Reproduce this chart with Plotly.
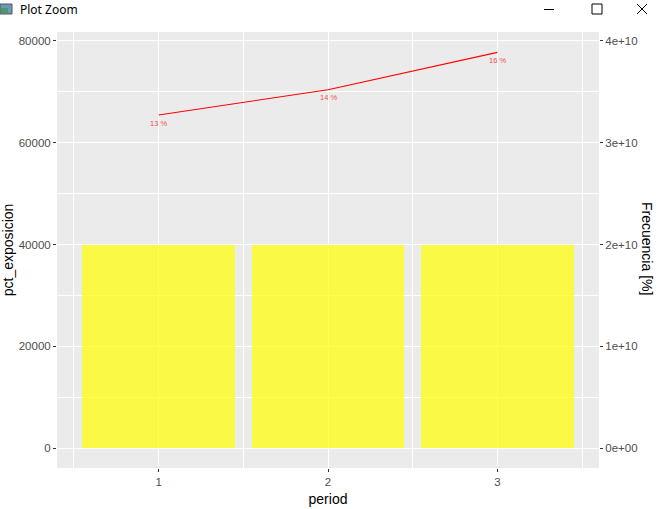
import plotly.graph_objects as go

# ---- data ----
periods = [1, 2, 3]
exposicion = [40000, 40000, 40000]
line_values = [65400, 70370, 77700]
pct_labels = ["13 %", "14 %", "16 %"]
left_ticks = [0, 20000, 40000, 60000, 80000]
right_ticks = [0, 1e10, 2e10, 3e10, 4e10]
right_ticktext = ["0e+00", "1e+10", "2e+10", "3e+10", "4e+10"]
sec_factor = 5e5

W, H = 662, 509
L, R, T, B = 57, 63, 32, 41
PW, PH = W - L - R, H - T - B

def px(x):
    return (x - L) / PW

def py(y):
    return (H - B - y) / PH

yr = [-3850, 81700]
font = "Liberation Sans, Arial, sans-serif"

fig = go.Figure()
fig.add_trace(go.Bar(x=periods, y=exposicion, width=0.9,
                     marker=dict(color="rgba(255,255,0,0.7)", line=dict(width=0)),
                     showlegend=False, hoverinfo="skip"))
fig.add_trace(go.Scatter(x=periods, y=line_values, mode="lines",
                         line=dict(color="red", width=1.1),
                         showlegend=False, hoverinfo="skip"))
# invisible trace to activate secondary axis
fig.add_trace(go.Scatter(x=[periods[0]], y=[0], yaxis="y2", mode="markers",
                         marker=dict(opacity=0), showlegend=False, hoverinfo="skip"))

for xv, yv, lab in zip(periods, line_values, pct_labels):
    fig.add_annotation(x=xv, y=yv, text=lab, showarrow=False, yshift=-8,
                       font=dict(color="#f44c4c", size=7.5, family=font))

axis_common = dict(showline=False, zeroline=False, ticks="outside", ticklen=3,
                   tickcolor="#333333", tickwidth=1.1, automargin=False,
                   tickfont=dict(color="#4d4d4d", size=11.5, family=font))

fig.update_layout(
    width=W, height=H,
    margin=dict(l=L, r=R, t=T, b=B, autoexpand=False),
    paper_bgcolor="white", plot_bgcolor="#ebebeb",
    bargap=0,
    font=dict(family=font),
    xaxis=dict(range=[0.4, 3.6], tickvals=periods, ticktext=[str(p) for p in periods],
               showgrid=True, gridcolor="white", gridwidth=1.1,
               minor=dict(tick0=0.5, dtick=1, showgrid=True, gridcolor="white", gridwidth=0.55, ticks=""),
               title=dict(text="period", font=dict(size=14, color="black"), standoff=7),
               **axis_common),
    yaxis=dict(range=yr, tickvals=left_ticks, ticktext=[str(v) for v in left_ticks],
               showgrid=True, gridcolor="white", gridwidth=1.1,
               minor=dict(tick0=10000, dtick=20000, showgrid=True, gridcolor="white", gridwidth=0.55, ticks=""),
               title=dict(text="pct_exposicion", font=dict(size=14, color="black"), standoff=4),
               **axis_common),
    yaxis2=dict(range=[v * sec_factor for v in yr], overlaying="y", side="right",
                tickvals=right_ticks, ticktext=right_ticktext, showgrid=False,
                **axis_common),
)

# right axis title (rotated clockwise)
fig.add_annotation(text="Frecuencia [%]", xref="paper", yref="paper",
                   x=px(647), y=py(248), xanchor="center", yanchor="middle",
                   textangle=90, showarrow=False,
                   font=dict(size=14, color="black", family=font))

# ---- window title bar ----
fig.add_shape(type="rect", xref="paper", yref="paper", x0=px(0), x1=px(W), y0=py(21), y1=py(0),
              fillcolor="white", line=dict(width=0), layer="above")
fig.add_shape(type="rect", xref="paper", yref="paper", x0=px(0), x1=px(12), y0=py(14), y1=py(4),
              fillcolor="#6a9bb8", line=dict(color="#555555", width=1), layer="above")
fig.add_shape(type="rect", xref="paper", yref="paper", x0=px(1), x1=px(8), y0=py(13), y1=py(8),
              fillcolor="#4a9a6a", line=dict(width=0), layer="above")
fig.add_annotation(text="Plot Zoom", xref="paper", yref="paper", x=px(18), y=py(9.5),
                   xanchor="left", yanchor="middle", showarrow=False,
                   font=dict(size=12, color="black", family="Noto Sans, sans-serif"))
fig.add_shape(type="line", xref="paper", yref="paper", x0=px(544), x1=px(554), y0=py(9.5), y1=py(9.5),
              line=dict(color="black", width=1), layer="above")
fig.add_shape(type="rect", xref="paper", yref="paper", x0=px(592), x1=px(602), y0=py(14), y1=py(4),
              line=dict(color="black", width=1), layer="above")
fig.add_shape(type="line", xref="paper", yref="paper", x0=px(637), x1=px(647), y0=py(14), y1=py(4),
              line=dict(color="black", width=1), layer="above")
fig.add_shape(type="line", xref="paper", yref="paper", x0=px(637), x1=px(647), y0=py(4), y1=py(14),
              line=dict(color="black", width=1), layer="above")

fig.write_html("out.html", config={"displayModeBar": False},
               post_script="document.body.style.margin='0';document.body.style.overflow='hidden';")
